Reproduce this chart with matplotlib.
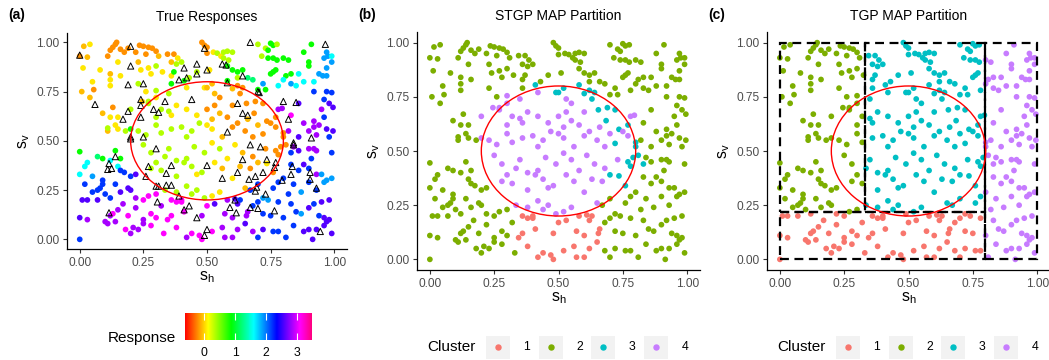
import numpy as np
import matplotlib
matplotlib.use("Agg")
import matplotlib.pyplot as plt
from matplotlib.colors import ListedColormap, Normalize, hsv_to_rgb
from matplotlib.patches import Ellipse, Rectangle
from matplotlib.lines import Line2D

plt.rcParams['font.family'] = ['Liberation Sans', 'DejaVu Sans']
plt.rcParams['mathtext.fontset'] = 'custom'
plt.rcParams['mathtext.rm'] = 'Liberation Sans'
plt.rcParams['mathtext.it'] = 'Liberation Sans:italic'

# observed locations: (s_h, s_v, response, STGP cluster, TGP cluster)
band_90 = [
    (0.00, 0.93, -0.2, 2, 2), (0.016, 0.98, -0.07, 2, 2), (0.04, 0.99, 0.05, 2, 2), (0.03, 0.925, -0.07, 2, 2),
    (0.13, 0.975, -0.2, 2, 2), (0.14, 0.99, -0.2, 2, 2), (0.145, 1.0, -0.2, 2, 2), (0.12, 0.96, -0.2, 2, 2),
    (0.11, 0.93, -0.2, 2, 2), (0.16, 0.965, -0.2, 2, 2), (0.175, 0.95, -0.2, 2, 2), (0.19, 0.97, -0.2, 2, 2),
    (0.22, 0.95, -0.2, 2, 2), (0.235, 0.985, -0.2, 2, 2), (0.25, 0.98, -0.2, 2, 2), (0.27, 0.975, -0.2, 2, 2),
    (0.285, 0.97, -0.2, 2, 2), (0.30, 0.955, -0.2, 2, 2), (0.26, 0.94, -0.2, 2, 2), (0.31, 0.93, -0.07, 2, 2),
    (0.345, 0.94, -0.2, 2, 3), (0.37, 0.94, -0.2, 2, 3), (0.385, 0.92, 0.05, 2, 3), (0.36, 0.90, -0.07, 2, 3),
    (0.48, 1.0, -0.2, 2, 3), (0.49, 0.985, -0.2, 2, 3), (0.50, 0.975, -0.2, 2, 3), (0.50, 0.945, -0.2, 2, 3),
    (0.525, 0.95, 0.05, 2, 3), (0.54, 0.945, 0.35, 2, 3), (0.555, 0.93, 0.05, 2, 3), (0.565, 0.95, 0.35, 2, 3),
    (0.58, 0.955, 0.35, 2, 3), (0.60, 0.95, 0.35, 2, 3), (0.565, 0.92, 0.35, 2, 3), (0.585, 0.91, 0.35, 2, 3),
    (0.70, 0.99, 0.35, 2, 3), (0.73, 0.97, 0.35, 2, 3), (0.75, 0.995, 0.85, 2, 3), (0.76, 0.985, 0.85, 2, 3),
    (0.775, 0.99, 0.35, 2, 3), (0.74, 0.96, 0.85, 2, 3), (0.715, 0.93, 0.35, 2, 3), (0.74, 0.92, 0.85, 2, 3),
    (0.76, 0.92, 0.85, 2, 3), (0.775, 0.91, 0.85, 2, 3), (0.80, 0.92, 0.85, 2, 4), (0.82, 0.91, 0.85, 2, 4),
    (0.88, 0.95, 0.85, 2, 4), (0.90, 0.90, 0.85, 2, 4), (0.91, 0.99, 0.85, 2, 4), (0.97, 0.95, 1.9, 2, 4),
    (0.975, 0.93, 1.9, 2, 4), (0.99, 0.93, 1.6, 2, 4), (0.96, 0.92, 1.9, 2, 4),
]
band_80 = [
    (0.08, 0.86, 0.05, 2, 2), (0.013, 0.87, 0.05, 2, 2), (0.15, 0.90, 0.05, 2, 2), (0.12, 0.84, -0.07, 2, 2),
    (0.16, 0.83, 0.05, 2, 2), (0.12, 0.81, 0.05, 2, 2), (0.23, 0.90, -0.07, 2, 2), (0.24, 0.86, 0.05, 2, 2),
    (0.27, 0.87, 0.05, 2, 2), (0.28, 0.84, 0.05, 2, 2), (0.30, 0.88, 0.35, 2, 2), (0.325, 0.85, 0.05, 2, 2),
    (0.36, 0.83, 0.05, 2, 3), (0.38, 0.89, 0.35, 2, 3), (0.37, 0.85, 0.85, 2, 3), (0.40, 0.90, 0.35, 2, 3),
    (0.51, 0.86, 0.05, 2, 3), (0.46, 0.85, 0.35, 2, 3), (0.43, 0.82, 0.35, 2, 3), (0.41, 0.805, 0.85, 3, 3),
    (0.36, 0.79, 0.85, 2, 3), (0.58, 0.88, 0.85, 2, 3), (0.60, 0.86, 0.85, 2, 3), (0.62, 0.85, 0.85, 2, 3),
    (0.64, 0.86, 0.85, 2, 3), (0.62, 0.82, 0.35, 2, 3), (0.58, 0.805, 0.85, 3, 3), (0.66, 0.82, 1.2, 2, 3),
    (0.68, 0.81, 1.2, 2, 3), (0.76, 0.85, 0.85, 2, 3), (0.75, 0.84, 0.85, 2, 3), (0.77, 0.86, 0.85, 2, 3),
    (0.81, 0.83, 0.85, 2, 4), (0.80, 0.81, 1.6, 2, 4), (0.83, 0.84, 0.85, 2, 4), (0.86, 0.84, 1.6, 2, 4),
    (0.90, 0.88, 0.85, 2, 4), (0.88, 0.80, 1.6, 2, 4), (0.92, 0.80, 1.6, 2, 4), (0.94, 0.84, 1.9, 2, 4),
    (0.955, 0.83, 1.9, 2, 4), (0.97, 0.83, 1.9, 2, 4), (0.97, 0.87, 1.9, 2, 4), (0.99, 0.90, 1.9, 2, 4),
]
band_70 = [
    (0.05, 0.80, 0.05, 2, 2), (0.008, 0.75, -0.07, 2, 2), (0.055, 0.76, -0.2, 2, 2), (0.04, 0.72, -0.07, 2, 2),
    (0.12, 0.78, 0.05, 2, 2), (0.23, 0.79, 0.35, 2, 2), (0.26, 0.75, 0.05, 2, 2), (0.245, 0.70, -0.07, 4, 2),
    (0.27, 0.70, 0.35, 4, 2), (0.30, 0.72, 0.05, 4, 2), (0.30, 0.755, 0.35, 4, 2), (0.35, 0.74, 0.35, 4, 3),
    (0.42, 0.77, 0.05, 4, 3), (0.49, 0.77, 0.05, 3, 3), (0.50, 0.77, -0.07, 3, 3), (0.52, 0.79, -0.07, 3, 3),
    (0.60, 0.765, -0.07, 3, 3), (0.62, 0.78, -0.2, 3, 3), (0.63, 0.74, -0.2, 3, 3), (0.55, 0.72, -0.2, 4, 3),
    (0.53, 0.74, -0.07, 4, 3), (0.655, 0.69, -0.2, 3, 3), (0.70, 0.76, 0.85, 2, 3), (0.72, 0.79, 1.9, 2, 3),
    (0.73, 0.76, 0.85, 2, 3), (0.69, 0.70, -0.2, 3, 3), (0.78, 0.78, 1.6, 2, 3), (0.83, 0.79, 1.9, 2, 4),
    (0.85, 0.78, 1.6, 2, 4), (0.92, 0.75, 2.2, 2, 4), (0.97, 0.75, 2.2, 2, 4), (0.96, 0.71, 2.2, 2, 4),
    (0.99, 0.745, 2.2, 2, 4), (0.64, 0.77, -0.2, 3, 3),
]
band_60 = [
    (0.09, 0.64, -0.07, 2, 2), (0.13, 0.67, -0.2, 2, 2), (0.15, 0.62, 0.05, 2, 2), (0.12, 0.62, 0.05, 2, 2),
    (0.20, 0.66, 0.35, 4, 2), (0.27, 0.69, 0.35, 4, 2), (0.32, 0.66, 0.35, 4, 2), (0.30, 0.62, 0.35, 4, 2),
    (0.35, 0.65, 0.35, 4, 3), (0.38, 0.68, 0.05, 4, 3), (0.36, 0.63, 0.05, 4, 3), (0.42, 0.66, 0.05, 4, 3),
    (0.46, 0.63, 0.05, 4, 3), (0.50, 0.66, -0.2, 4, 3), (0.53, 0.68, -0.2, 4, 3), (0.55, 0.64, -0.07, 4, 3),
    (0.58, 0.62, -0.2, 4, 3), (0.52, 0.61, -0.07, 4, 3), (0.60, 0.68, -0.2, 4, 3), (0.685, 0.64, -0.2, 3, 3),
    (0.72, 0.69, -0.2, 3, 3), (0.66, 0.61, -0.07, 4, 3), (0.735, 0.60, -0.2, 3, 3), (0.78, 0.66, 2.85, 4, 3),
    (0.795, 0.665, 2.85, 4, 3), (0.77, 0.62, -0.2, 3, 3), (0.83, 0.63, 3.1, 2, 4), (0.86, 0.69, 2.6, 2, 4),
    (0.92, 0.60, 2.85, 2, 4), (0.95, 0.66, 2.85, 2, 4), (0.96, 0.62, 2.2, 2, 4), (0.98, 0.69, 2.6, 2, 4),
    (0.995, 0.67, 2.6, 2, 4),
]
band_50 = [
    (0.11, 0.55, -0.07, 2, 2), (0.14, 0.58, 0.05, 2, 2), (0.15, 0.56, 0.05, 2, 2), (0.11, 0.565, 0.35, 2, 2),
    (0.18, 0.55, 0.35, 2, 2), (0.20, 0.56, 0.85, 4, 2), (0.23, 0.55, 0.35, 4, 2), (0.30, 0.58, 0.35, 4, 2),
    (0.26, 0.53, 0.35, 4, 2), (0.32, 0.54, 0.35, 4, 2), (0.36, 0.56, 0.35, 4, 3), (0.40, 0.57, 0.35, 4, 3),
    (0.44, 0.55, 0.35, 4, 3), (0.42, 0.52, 0.35, 4, 3), (0.47, 0.59, 0.35, 4, 3), (0.50, 0.58, 0.05, 4, 3),
    (0.52, 0.56, 0.05, 4, 3), (0.56, 0.52, -0.07, 4, 3), (0.60, 0.57, -0.2, 4, 3), (0.62, 0.59, -0.2, 4, 3),
    (0.65, 0.55, -0.2, 4, 3), (0.68, 0.52, -0.2, 4, 3), (0.70, 0.58, -0.07, 4, 3), (0.72, 0.535, -0.2, 3, 3),
    (0.75, 0.59, -0.2, 4, 3), (0.77, 0.57, -0.2, 4, 3), (0.80, 0.52, -0.2, 3, 4), (0.80, 0.54, -0.2, 3, 4),
    (0.82, 0.55, 2.85, 2, 4), (0.86, 0.52, 2.6, 2, 4), (0.88, 0.59, 2.85, 2, 4), (0.90, 0.55, 2.85, 2, 4),
    (0.92, 0.57, 2.85, 2, 4), (0.94, 0.58, 2.85, 2, 4), (0.93, 0.53, 2.85, 2, 4), (0.97, 0.56, 2.6, 2, 4),
    (0.98, 0.52, 2.2, 2, 4), (0.995, 0.55, 2.6, 2, 4),
]
band_40 = [
    (0.00, 0.445, 0.85, 2, 2), (0.07, 0.42, 1.2, 2, 2), (0.09, 0.41, 0.85, 2, 2), (0.14, 0.45, 0.85, 2, 2),
    (0.16, 0.41, 0.85, 2, 2), (0.25, 0.48, 0.35, 4, 2), (0.28, 0.44, 0.35, 4, 2), (0.335, 0.42, 0.35, 4, 3),
    (0.35, 0.46, 0.35, 4, 3), (0.38, 0.40, 0.35, 4, 3), (0.42, 0.41, 0.35, 4, 3), (0.45, 0.47, 0.35, 4, 3),
    (0.49, 0.44, 0.35, 4, 3), (0.52, 0.49, 0.05, 4, 3), (0.55, 0.46, 0.35, 4, 3), (0.58, 0.41, 0.05, 4, 3),
    (0.61, 0.48, 0.05, 4, 3), (0.64, 0.44, -0.07, 4, 3), (0.68, 0.42, -0.2, 4, 3), (0.73, 0.46, -0.2, 4, 3),
    (0.77, 0.45, -0.2, 3, 3), (0.79, 0.47, -0.2, 3, 3), (0.81, 0.48, -0.2, 3, 4), (0.78, 0.43, -0.2, 3, 3),
    (0.86, 0.45, 2.6, 2, 4), (0.84, 0.47, 2.85, 2, 4), (0.83, 0.44, 2.2, 3, 4), (0.90, 0.46, 2.85, 2, 4),
    (0.92, 0.46, 2.85, 2, 4), (0.91, 0.41, 2.2, 2, 4), (0.93, 0.45, 2.85, 2, 4), (0.99, 0.44, 2.2, 2, 4),
]
band_30 = [
    (0.00, 0.33, 1.6, 2, 2), (0.02, 0.37, 1.6, 2, 2), (0.03, 0.39, 1.6, 2, 2), (0.05, 0.32, 1.9, 2, 2),
    (0.09, 0.30, 2.2, 2, 2), (0.12, 0.40, 1.6, 2, 2), (0.15, 0.37, 1.6, 2, 2), (0.16, 0.35, 2.2, 2, 2),
    (0.175, 0.34, 2.2, 2, 2), (0.20, 0.32, 2.2, 2, 2), (0.22, 0.33, 2.6, 2, 2), (0.28, 0.36, 0.35, 4, 2),
    (0.30, 0.39, 0.35, 4, 2), (0.32, 0.35, 0.35, 4, 2), (0.38, 0.32, 0.35, 4, 3), (0.41, 0.39, 0.35, 4, 3),
    (0.44, 0.37, 0.35, 4, 3), (0.46, 0.33, 0.05, 4, 3), (0.48, 0.34, 0.35, 4, 3), (0.53, 0.39, 0.05, 4, 3),
    (0.56, 0.36, -0.07, 4, 3), (0.60, 0.31, 0.05, 4, 3), (0.63, 0.37, -0.07, 4, 3), (0.67, 0.36, -0.2, 4, 3),
    (0.70, 0.39, -0.07, 3, 3), (0.735, 0.385, 0.05, 3, 3), (0.76, 0.34, -0.2, 3, 3), (0.80, 0.31, 2.2, 2, 4),
    (0.83, 0.38, 2.2, 2, 4), (0.86, 0.35, 2.2, 2, 4), (0.88, 0.38, 2.6, 2, 4), (0.90, 0.36, 2.2, 2, 4),
    (0.93, 0.33, 2.85, 2, 4), (0.95, 0.33, 1.9, 2, 4), (0.97, 0.30, 1.9, 2, 4), (0.99, 0.31, 1.9, 2, 4),
]
band_20 = [
    (0.01, 0.20, 2.6, 2, 1), (0.03, 0.20, 2.6, 2, 1), (0.02, 0.28, 2.2, 2, 2), (0.05, 0.24, 2.2, 2, 2),
    (0.07, 0.25, 2.2, 2, 2), (0.07, 0.20, 2.6, 2, 1), (0.08, 0.26, 2.2, 2, 2), (0.09, 0.28, 2.2, 2, 2),
    (0.10, 0.23, 2.2, 2, 2), (0.12, 0.21, 2.2, 2, 1), (0.14, 0.28, 2.2, 2, 2), (0.16, 0.24, 2.6, 2, 2),
    (0.19, 0.26, 2.6, 2, 2), (0.20, 0.25, 2.6, 2, 2), (0.22, 0.21, 2.85, 2, 1), (0.25, 0.20, 3.1, 2, 1),
    (0.27, 0.22, 3.1, 2, 2), (0.30, 0.23, 3.1, 2, 2), (0.335, 0.25, 0.35, 4, 3), (0.38, 0.24, 0.35, 4, 3),
    (0.36, 0.20, 3.1, 1, 1), (0.40, 0.20, 3.1, 1, 1), (0.42, 0.27, 0.35, 4, 3), (0.44, 0.23, 0.35, 4, 3),
    (0.46, 0.25, 0.35, 4, 3), (0.49, 0.21, 0.35, 4, 1), (0.52, 0.22, 0.05, 4, 3), (0.55, 0.24, 0.05, 4, 3),
    (0.58, 0.20, 2.85, 1, 1), (0.61, 0.205, 2.6, 1, 1), (0.63, 0.20, 2.2, 1, 1), (0.65, 0.26, -0.07, 4, 3),
    (0.67, 0.25, 2.2, 2, 3), (0.70, 0.28, 2.2, 2, 3), (0.72, 0.21, 1.9, 2, 1), (0.74, 0.20, 1.9, 2, 1),
    (0.76, 0.26, 2.2, 2, 3), (0.78, 0.29, 2.2, 2, 3), (0.82, 0.23, 2.2, 2, 4), (0.84, 0.28, 2.2, 2, 4),
    (0.87, 0.24, 1.9, 2, 4), (0.90, 0.29, 2.2, 2, 4), (0.93, 0.25, 2.2, 2, 4), (0.96, 0.29, 1.9, 2, 4),
    (0.98, 0.20, 2.6, 2, 4), (0.95, 0.19, 2.6, 2, 4),
]
band_10 = [
    (0.00, 0.11, 2.6, 2, 1), (0.03, 0.10, 2.85, 2, 1), (0.10, 0.09, 2.85, 2, 1), (0.12, 0.12, 2.85, 2, 1),
    (0.13, 0.13, 3.1, 2, 1), (0.15, 0.15, 2.85, 2, 1), (0.17, 0.18, 2.85, 2, 1), (0.19, 0.12, 3.1, 2, 1),
    (0.22, 0.16, 2.85, 2, 1), (0.25, 0.10, 2.85, 2, 1), (0.28, 0.13, 3.1, 2, 1), (0.30, 0.11, 3.1, 2, 1),
    (0.32, 0.17, 2.85, 2, 1), (0.345, 0.10, 3.1, 1, 1), (0.36, 0.12, 3.1, 1, 1), (0.38, 0.19, 3.1, 1, 1),
    (0.40, 0.19, 3.1, 1, 1), (0.41, 0.14, 3.1, 1, 1), (0.48, 0.12, 2.85, 1, 1), (0.50, 0.17, 3.1, 1, 1),
    (0.53, 0.18, 2.6, 1, 1), (0.57, 0.13, 2.85, 1, 1), (0.60, 0.11, 2.85, 1, 1), (0.62, 0.18, 2.6, 1, 1),
    (0.655, 0.12, 2.85, 1, 1), (0.66, 0.14, 2.85, 1, 1), (0.68, 0.17, 2.2, 2, 1), (0.70, 0.19, 2.2, 2, 1),
    (0.72, 0.13, 2.2, 2, 1), (0.75, 0.12, 2.2, 2, 1), (0.78, 0.19, 2.2, 2, 1), (0.80, 0.11, 2.2, 2, 4),
    (0.83, 0.18, 2.2, 2, 4), (0.85, 0.14, 2.2, 2, 4), (0.87, 0.13, 1.9, 2, 4), (0.90, 0.16, 2.6, 2, 4),
    (0.92, 0.18, 2.2, 2, 4), (0.94, 0.12, 2.2, 2, 4), (0.96, 0.11, 2.6, 2, 4), (0.98, 0.10, 2.6, 2, 4),
]
band_00 = [
    (0.00, 0.00, 2.2, 2, 1), (0.11, 0.08, 2.85, 2, 1), (0.14, 0.09, 2.85, 2, 1), (0.18, 0.05, 3.1, 2, 1),
    (0.20, 0.03, 2.85, 2, 1), (0.21, 0.06, 2.85, 2, 1), (0.23, 0.05, 2.85, 2, 1), (0.25, 0.08, 2.85, 2, 1),
    (0.28, 0.07, 3.1, 2, 1), (0.33, 0.03, 3.1, 2, 1), (0.38, 0.06, 3.1, 1, 1), (0.42, 0.01, 2.85, 1, 1),
    (0.44, 0.03, 3.1, 1, 1), (0.47, 0.02, 3.1, 1, 1), (0.48, 0.00, 3.1, 1, 1), (0.52, 0.04, 3.1, 1, 1),
    (0.56, 0.06, 2.85, 1, 1), (0.57, 0.01, 2.85, 1, 1), (0.60, 0.01, 2.85, 1, 1), (0.62, 0.05, 2.85, 1, 1),
    (0.65, 0.08, 2.6, 1, 1), (0.68, 0.04, 2.85, 2, 1), (0.70, 0.01, 2.2, 2, 1), (0.72, 0.05, 2.6, 2, 1),
    (0.76, 0.04, 2.2, 2, 1), (0.78, 0.04, 2.2, 2, 1), (0.81, 0.01, 2.2, 2, 4), (0.84, 0.07, 2.2, 2, 4),
    (0.88, 0.04, 2.6, 2, 4), (0.90, 0.05, 2.6, 2, 4), (0.915, 0.00, 2.6, 2, 4), (0.93, 0.05, 2.6, 2, 4),
    (0.97, 0.09, 2.6, 2, 4), (0.99, 0.03, 2.6, 2, 4), (0.96, 0.07, 2.6, 2, 4),
]

# hold-out locations drawn as open triangles in panel (a)
test_sh = [0.00, 0.20, 0.49, 0.67, 0.965, 0.20, 0.41, 0.46, 0.50, 0.56, 0.575, 0.46, 0.42, 0.39, 0.64,
           0.19, 0.25, 0.24, 0.335, 0.44, 0.58, 0.70, 0.705, 0.06, 0.19, 0.17, 0.24, 0.24, 0.29, 0.31,
           0.62, 0.64, 0.66, 0.80, 0.85, 0.82, 0.20, 0.20, 0.25, 0.58, 0.91, 0.84, 0.84, 0.30, 0.67,
           0.71, 0.14, 0.115, 0.11, 0.125, 0.26, 0.27, 0.34, 0.36, 0.50, 0.56, 0.62, 0.64, 0.665, 0.69,
           0.72, 0.77, 0.765, 0.735, 0.835, 0.83, 0.905, 0.905, 0.795, 0.93, 0.30, 0.31, 0.34, 0.36,
           0.39, 0.305, 0.69, 0.695, 0.73, 0.61, 0.115, 0.41, 0.43, 0.46, 0.59, 0.615, 0.67, 0.70,
           0.765, 0.50, 0.49, 0.945]
test_sv = [0.935, 0.98, 0.97, 1.0, 0.99, 0.88, 0.87, 0.89, 0.86, 0.89, 0.885, 0.84, 0.82, 0.81, 0.83,
           0.785, 0.79, 0.71, 0.70, 0.71, 0.795, 0.75, 0.745, 0.685, 0.65, 0.61, 0.62, 0.68, 0.66, 0.645,
           0.69, 0.64, 0.63, 0.70, 0.695, 0.61, 0.52, 0.51, 0.52, 0.545, 0.515, 0.49, 0.48, 0.46, 0.48,
           0.47, 0.42, 0.385, 0.355, 0.36, 0.32, 0.37, 0.335, 0.375, 0.375, 0.31, 0.34, 0.405, 0.305, 0.32,
           0.34, 0.39, 0.365, 0.405, 0.37, 0.33, 0.34, 0.305, 0.30, 0.26, 0.27, 0.27, 0.275, 0.275,
           0.22, 0.19, 0.245, 0.265, 0.23, 0.20, 0.135, 0.15, 0.17, 0.11, 0.162, 0.135, 0.162, 0.157,
           0.145, 0.05, 0.02, 0.04]

true_center = (0.5, 0.5)
true_radius = 0.3
# TGP partition boxes: (x0, y0, x1, y1)
tgp_boxes = [(0.0, 0.0, 0.797, 0.217), (0.0, 0.217, 0.33, 1.0),
             (0.33, 0.217, 0.797, 1.0), (0.797, 0.0, 1.0, 1.0)]

cluster_names = ['1', '2', '3', '4']
cluster_colors = ['#F8766D', '#7CAE00', '#00BFC4', '#C77CFF']
ticks = [0.0, 0.25, 0.5, 0.75, 1.0]
tick_labels = ['0.00', '0.25', '0.50', '0.75', '1.00']
resp_ticks = [0, 1, 2, 3]
resp_range = (-0.63, 3.5)

pts = band_90 + band_80 + band_70 + band_60 + band_50 + band_40 + band_30 + band_20 + band_10 + band_00
sh = np.array([p[0] for p in pts])
sv = np.array([p[1] for p in pts])
resp = np.array([p[2] for p in pts])
stgp = np.array([p[3] for p in pts])
tgp = np.array([p[4] for p in pts])

hues = np.linspace(0, 0.92, 256)
rainbow = ListedColormap(hsv_to_rgb(np.column_stack([hues, np.ones(256), np.ones(256)])))
norm = Normalize(*resp_range)

W, H = 1049, 360


def px_box(left, top, right, bottom):
    return [left / W, 1 - bottom / H, (right - left) / W, (bottom - top) / H]


def style(ax, title):
    ax.set_xlim(-0.05, 1.05)
    ax.set_ylim(-0.05, 1.05)
    ax.set_xticks(ticks)
    ax.set_xticklabels(tick_labels)
    ax.set_yticks(ticks)
    ax.set_yticklabels(tick_labels)
    for s in ['top', 'right']:
        ax.spines[s].set_visible(False)
    for s in ['left', 'bottom']:
        ax.spines[s].set_linewidth(0.9)
    ax.tick_params(length=3, width=0.8, color='#333333', labelcolor='#4D4D4D',
                   labelsize=8.6, pad=2.5)
    ax.set_xlabel(r'$\mathrm{s_h}$', fontsize=11.5, labelpad=0)
    ax.set_ylabel(r'$\mathrm{s_v}$', fontsize=11.5, labelpad=3)
    ax.set_title(title, fontsize=10, pad=8.3)
    ax.add_patch(Ellipse(true_center, 2 * true_radius, 2 * true_radius, fill=False,
                         edgecolor='red', lw=1.0, zorder=5))


def cluster_legend(cx):
    fig.text((cx - 131.5) / W, 1 - 347 / H, 'Cluster', fontsize=11, va='center', ha='left')
    for k, (name, col) in enumerate(zip(cluster_names, cluster_colors)):
        x0 = cx - 72.5 + k * 52.7
        fig.add_artist(Rectangle((x0 / W, 1 - 358.5 / H), 24 / W, 23 / H, transform=fig.transFigure,
                                 facecolor='#F2F2F2', edgecolor='none'))
        fig.add_artist(Line2D([(x0 + 12) / W], [1 - 347 / H], marker='o', ms=3.6, color=col,
                              ls='none', transform=fig.transFigure))
        fig.text((x0 + 41) / W, 1 - 347 / H, name, fontsize=8.8, va='center', ha='center')


fig = plt.figure(figsize=(W / 100, H / 100), dpi=100)
ax_a = fig.add_axes(px_box(67, 32.5, 347, 249.2))
ax_b = fig.add_axes(px_box(417, 31.8, 700, 270.2))
ax_c = fig.add_axes(px_box(767, 31.8, 1050, 270.2))

# (a) true responses
sc = ax_a.scatter(sh, sv, c=resp, cmap=rainbow, norm=norm, s=17, linewidths=0)
ax_a.scatter(test_sh, test_sv, marker='^', facecolors='none', edgecolors='black', s=20, linewidths=0.7)
style(ax_a, 'True Responses')

# (b) STGP partition
ax_b.scatter(sh, sv, c=[cluster_colors[k - 1] for k in stgp], s=17, linewidths=0)
style(ax_b, 'STGP MAP Partition')

# (c) TGP partition
ax_c.scatter(sh, sv, c=[cluster_colors[k - 1] for k in tgp], s=17, linewidths=0)
for x0, y0, x1, y1 in tgp_boxes:
    ax_c.add_patch(Rectangle((x0, y0), x1 - x0, y1 - y0, fill=False, edgecolor='black',
                             lw=1.6, ls=(0, (4, 2.5)), zorder=4))
style(ax_c, 'TGP MAP Partition')

# panel tags
for x, tag in [(8, '(a)'), (358, '(b)'), (708, '(c)')]:
    fig.text(x / W, 1 - 19 / H, tag, fontsize=10, fontweight='bold', va='baseline')

# colour bar for responses
cax = fig.add_axes(px_box(185, 313, 312, 340))
cb = fig.colorbar(sc, cax=cax, orientation='horizontal', ticks=resp_ticks)
cb.outline.set_visible(False)
cb.minorticks_off()
cax.tick_params(axis='x', direction='in', length=5, width=0.8, color='white', top=True,
                bottom=True, labelcolor='black', labelsize=8.8, pad=5)
fig.text(176 / W, 1 - 338 / H, 'Response', fontsize=11, va='center', ha='right')

cluster_legend(558.5)
cluster_legend(908.5)

fig.savefig('out.png', dpi=100)
